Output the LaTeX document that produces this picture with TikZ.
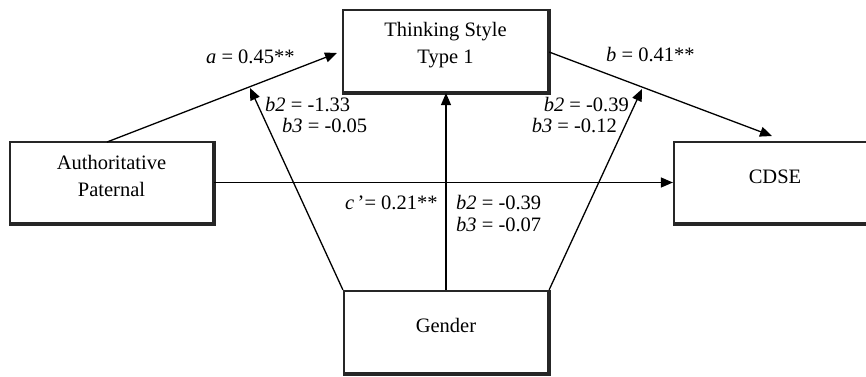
\documentclass[tikz,border=0pt]{standalone}
\usepackage{fontspec}
\setmainfont{Liberation Serif}
\usetikzlibrary{arrows.meta}
\begin{document}
\begin{tikzpicture}[x=1pt,y=-1pt,
  boxnode/.style={draw=black!85,line width=2.2pt,inner sep=0pt},
  boxtext/.style={align=center,inner sep=0pt,font=\fontsize{20.5}{26.5}\selectfont},
  lbl/.style={inner sep=0pt,font=\fontsize{20.5}{24}\selectfont},
  conn/.style={line width=1.3pt,-{Triangle[length=12pt,width=10pt]}}]
\clip (0,0) rectangle (866,376);
\fill[white] (0,0) rectangle (866,376);
% boxes
\node[boxnode,minimum width=205pt,minimum height=82pt] (think) at (445.5,51) {};
\node[boxnode,minimum width=203pt,minimum height=81pt] (auth) at (111.5,182.5) {};
\node[boxnode,minimum width=202pt,minimum height=81pt] (cdse) at (775,182.5) {};
\node[boxnode,minimum width=204pt,minimum height=82pt] (gender) at (446,332) {};
% shadow edges
\draw[line width=3.2pt,black!85] (think.north east) -- (think.south east) -- (think.south west);
\draw[line width=3.2pt,black!85] (auth.north east) -- (auth.south east) -- (auth.south west);
\draw[line width=3.2pt,black!85] (cdse.south east) -- (cdse.south west);
\draw[line width=3.2pt,black!85] (gender.north east) -- (gender.south east) -- (gender.south west);
% box texts
\node[boxtext] (thinkt) at (445.5,45) {Thinking Style\\Type 1};
\node[boxtext] (autht) at (111.5,176) {Authoritative\\Paternal};
\node[boxtext] (cdset) at (775,177) {CDSE};
\node[boxtext] (gendert) at (446,325) {Gender};
% arrow end points
\coordinate (aend) at (337,53);
\coordinate (astart) at (107,142);
\coordinate (bend) at (772,136);
\coordinate (g1) at (250,88);
\coordinate (g3) at (642,89);
% connectors
\draw[conn] (astart) -- (aend);
\draw[conn] (think.east |- 0,52) -- (bend);
\draw[conn] (auth.east) -- (cdse.west);
\draw[conn] (gender.north west) -- (g1);
\draw[conn] (gender.north) -- (gender.north |- think.south);
\draw[conn] (gender.north east) -- (g3);
% labels
\node[lbl,anchor=west] (la) at (206,57) {\textit{a} = 0.45**};
\node[lbl,anchor=west] (lb) at (606,55) {\textit{b} = 0.41**};
\node[lbl,anchor=west] (lb2l) at (265,105) {\textit{b2} = -1.33};
\node[lbl,anchor=west] (lb3l) at (282,126) {\textit{b3} = -0.05};
\node[lbl,anchor=east] (lb2r) at (629,105) {\textit{b2} = -0.39};
\node[lbl,anchor=east] (lb3r) at (617,126) {\textit{b3} = -0.12};
\node[lbl,anchor=west] (lc) at (345,203) {\textit{c\,}’= 0.21**};
\node[lbl,anchor=west] (lb2m) at (456,203) {\textit{b2} = -0.39};
\node[lbl,anchor=west] (lb3m) at (456,225) {\textit{b3} = -0.07};
\end{tikzpicture}
\end{document}
